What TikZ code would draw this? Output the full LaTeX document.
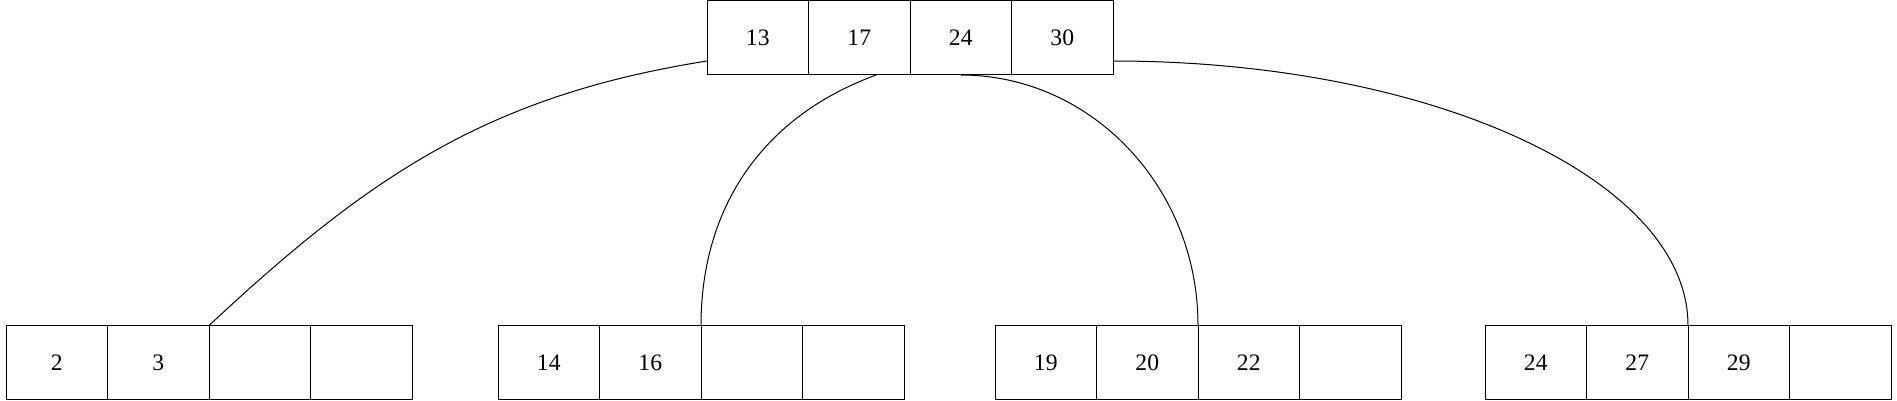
\documentclass[tikz,border=0pt]{standalone}
\usepackage{fontspec}
\setmainfont{Liberation Serif}
\usetikzlibrary{positioning}

\tikzstyle{cell} = [rectangle, draw=black, line width=0.5pt, minimum width=50.75pt, minimum height=37pt, inner sep=0pt, outer sep=0pt, font=\fontsize{11.8}{14}\selectfont]
\tikzstyle{link} = [line width=0.5pt]

\begin{document}
\begin{tikzpicture}[x=0.5pt, y=-0.5pt, node distance=0pt]
    \useasboundingbox (0,0) rectangle (1897,401);

    % Draw root
    \node (r1) [cell] at (757.75,38) {13};
    \node (r2) [cell, right=of r1] {17};
    \node (r3) [cell, right=of r2] {24};
    \node (r4) [cell, right=of r3] {30};

    % Draw leaves
    \node (a1) [cell] at (56.75,362.5) {2};
    \node (a2) [cell, right=of a1] {3};
    \node (a3) [cell, right=of a2] {};
    \node (a4) [cell, right=of a3] {};

    \node (b1) [cell, right=43pt of a4] {14};
    \node (b2) [cell, right=of b1] {16};
    \node (b3) [cell, right=of b2] {};
    \node (b4) [cell, right=of b3] {};

    \node (c1) [cell, right=45.5pt of b4] {19};
    \node (c2) [cell, right=of c1] {20};
    \node (c3) [cell, right=of c2] {22};
    \node (c4) [cell, right=of c3] {};

    \node (d1) [cell, right=42pt of c4] {24};
    \node (d2) [cell, right=of d1] {27};
    \node (d3) [cell, right=of d2] {29};
    \node (d4) [cell, right=of d3] {};

    % Draw connections
    \draw [link] ([yshift=-11.5pt]r1.west) to[out=189, in=43] (a2.north east);
    \draw [link] ([xshift=8.5pt]r2.south) to[out=200, in=90] (b2.north east);
    \draw [link] (r3.south) .. controls +(130.3,0) and +(0,-138.6) .. (c2.north east);
    \draw [link] ([yshift=-11.5pt]r4.east) .. controls +(317.6,0) and +(0,-146.4) .. (d2.north east);

\end{tikzpicture}
\end{document}
